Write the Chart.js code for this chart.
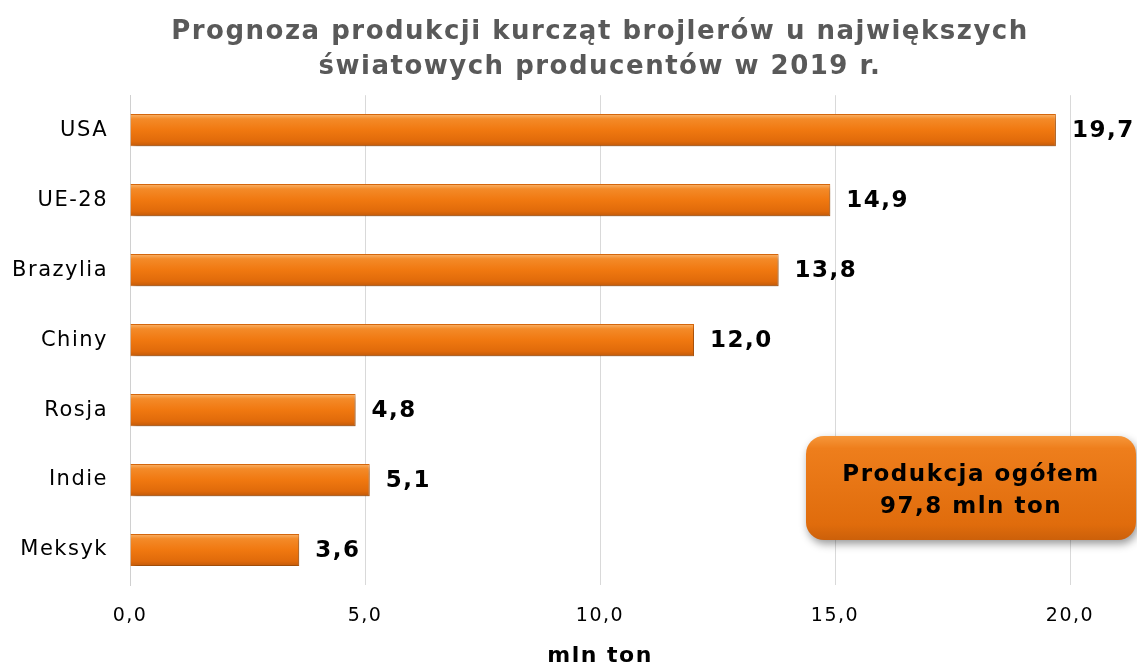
<!DOCTYPE html>
<html lang="pl">
<head>
    <meta charset="UTF-8">
    <title>Prognoza produkcji kurcząt brojlerów 2019</title>
    <script src="https://cdn.jsdelivr.net/npm/chart.js"></script>
    <style>
        html, body { margin: 0; padding: 0; background: #fff; }
        #wrap { width: 1137px; height: 664px; }
    </style>
</head>
<body>
    <div id="wrap"><canvas id="chart"></canvas></div>

    <script>
        // data
        const countries = ["USA", "UE-28", "Brazylia", "Chiny", "Rosja", "Indie", "Meksyk"];
        const production = [19.7, 14.9, 13.8, 12.0, 4.8, 5.1, 3.6];
        const titleLines = ["Prognoza produkcji kurcząt brojlerów u największych", "światowych producentów w 2019 r."];
        const totalLines = ["Produkcja ogółem", "97,8 mln ton"];

        const fmt = v => v.toFixed(1).replace(".", ",");
        const FONT = "'DejaVu Sans', Verdana, sans-serif";

        function barGradient(context) {
            const chart = context.chart;
            if (!chart.chartArea) return "#f07a14";
            const y = chart.scales.y.getPixelForValue(context.dataIndex);
            const g = chart.ctx.createLinearGradient(0, y - 16, 0, y + 16);
            g.addColorStop(0, "#f9b36a");
            g.addColorStop(0.15, "#f48a28");
            g.addColorStop(0.5, "#f07810");
            g.addColorStop(0.85, "#e06a0a");
            g.addColorStop(1, "#c25a0a");
            return g;
        }

        // wider, Verdana-like text spacing
        const spacing = {
            id: "spacing",
            beforeInit(chart) { chart.ctx.letterSpacing = "1.5px"; },
            beforeDraw(chart) { chart.ctx.letterSpacing = "1.5px"; }
        };

        // shadow under bars
        const shadowPlugin = {
            id: "barShadow",
            beforeDatasetsDraw(chart) {
                const ctx = chart.ctx;
                ctx.save();
                ctx.shadowColor = "rgba(0,0,0,0.35)";
                ctx.shadowBlur = 5;
                ctx.shadowOffsetX = 2;
                ctx.shadowOffsetY = 3;
            },
            afterDatasetsDraw(chart) {
                chart.ctx.restore();
            }
        };

        // value labels at bar ends
        const valueLabels = {
            id: "valueLabels",
            afterDraw(chart) {
                const ctx = chart.ctx;
                const meta = chart.getDatasetMeta(0);
                ctx.save();
                ctx.font = "bold 23px " + FONT;
                ctx.fillStyle = "#000";
                ctx.textAlign = "left";
                ctx.textBaseline = "middle";
                meta.data.forEach((bar, i) => {
                    ctx.fillText(fmt(production[i]), bar.x + 16, bar.y + 1);
                });
                ctx.restore();
            }
        };

        // "Produkcja ogółem" box
        const totalBox = {
            id: "totalBox",
            afterDraw(chart) {
                const ctx = chart.ctx;
                const x = 806, y = 436, w = 330, h = 104, r = 18;
                ctx.save();
                ctx.shadowColor = "rgba(0,0,0,0.4)";
                ctx.shadowBlur = 8;
                ctx.shadowOffsetX = 2;
                ctx.shadowOffsetY = 4;
                const g = ctx.createLinearGradient(0, y, 0, y + h);
                g.addColorStop(0, "#f6973a");
                g.addColorStop(0.12, "#ee7e1c");
                g.addColorStop(0.85, "#e06c0c");
                g.addColorStop(1, "#cc600a");
                ctx.fillStyle = g;
                ctx.beginPath();
                ctx.roundRect(x, y, w, h, r);
                ctx.fill();
                ctx.restore();

                ctx.save();
                ctx.font = "bold 23px " + FONT;
                ctx.fillStyle = "#000";
                ctx.textAlign = "center";
                ctx.textBaseline = "middle";
                ctx.fillText(totalLines[0], x + w / 2, y + 39);
                ctx.fillText(totalLines[1], x + w / 2, y + 71);
                ctx.restore();
            }
        };

        new Chart(document.getElementById("chart"), {
            type: "bar",
            data: {
                labels: countries,
                datasets: [{
                    data: production,
                    backgroundColor: barGradient,
                    borderColor: "#d8680c",
                    borderWidth: 1,
                    barPercentage: 0.46,
                    categoryPercentage: 1.0
                }]
            },
            options: {
                indexAxis: "y",
                responsive: true,
                maintainAspectRatio: false,
                animation: false,
                layout: { padding: { left: 0, right: 67, top: 0, bottom: 0 } },
                plugins: {
                    legend: { display: false },
                    tooltip: { enabled: false },
                    title: {
                        display: true,
                        text: titleLines,
                        fullSize: false,
                        color: "#595959",
                        font: { family: FONT, size: 26, weight: "bold", lineHeight: 1.35 },
                        padding: { top: 15, bottom: 10 }
                    }
                },
                scales: {
                    x: {
                        min: 0,
                        max: 20,
                        ticks: {
                            stepSize: 5,
                            color: "#000",
                            padding: 20,
                            font: { family: FONT, size: 19 },
                            callback: v => fmt(v)
                        },
                        grid: { color: "#d9d9d9", lineWidth: 1, drawTicks: false },
                        border: { display: false },
                        title: {
                            display: true,
                            text: "mln ton",
                            color: "#000",
                            font: { family: FONT, size: 22, weight: "bold", lineHeight: 1 },
                            padding: { top: 0, bottom: -3 }
                        },
                        afterFit(scale) { scale.height = 79; }
                    },
                    y: {
                        ticks: {
                            color: "#000",
                            padding: 22,
                            font: { family: FONT, size: 21 }
                        },
                        grid: { display: false, drawTicks: false },
                        border: { display: true, color: "#d0d0d0", width: 1 },
                        afterFit(scale) { scale.width = 130; }
                    }
                }
            },
            plugins: [spacing, shadowPlugin, valueLabels, totalBox]
        });
    </script>
</body>
</html>
